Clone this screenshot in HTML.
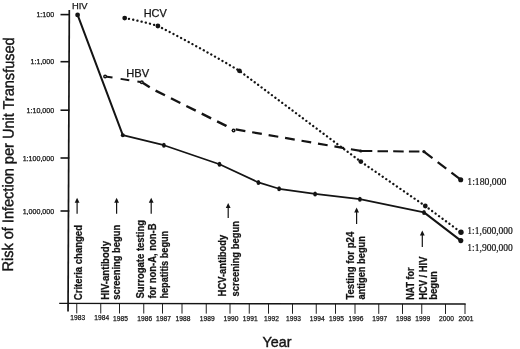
<!DOCTYPE html><html><head><meta charset="utf-8"><title>Risk of Infection per Unit Transfused</title>
<style>html,body{margin:0;padding:0;background:#fff}svg{display:block}text{font-family:"Liberation Sans",sans-serif;fill:#141414;stroke:#141414;stroke-width:.25px}.b{font-weight:bold}.s{font-family:"Liberation Serif",serif;stroke-width:.2px}</style></head><body>
<svg width="520" height="349" viewBox="0 0 520 349">
<rect width="520" height="349" fill="#fff"/>
<g stroke="#141414" fill="none">
<line x1="69.3" y1="10" x2="68.05" y2="311.5" stroke-width="1.7"/>
<line x1="59.2" y1="303.4" x2="465.7" y2="304" stroke-width="1.4"/>
<line x1="60.5" y1="14.6" x2="69.3" y2="14.6" stroke-width="1.6"/>
<line x1="60.5" y1="61.7" x2="69.3" y2="61.7" stroke-width="1.6"/>
<line x1="60.5" y1="110.2" x2="69.3" y2="110.2" stroke-width="1.6"/>
<line x1="60.5" y1="158" x2="69.3" y2="158" stroke-width="1.6"/>
<line x1="60.5" y1="211" x2="69.3" y2="211" stroke-width="1.6"/>
<line x1="76.75" y1="303.43" x2="76.75" y2="313.43" stroke-width="0.95"/>
<line x1="100.75" y1="303.46" x2="100.75" y2="313.46" stroke-width="0.95"/>
<line x1="119.5" y1="303.49" x2="119.5" y2="313.49" stroke-width="0.95"/>
<line x1="143.75" y1="303.52" x2="143.75" y2="313.52" stroke-width="0.95"/>
<line x1="162.5" y1="303.55" x2="162.5" y2="313.55" stroke-width="0.95"/>
<line x1="182" y1="303.58" x2="182" y2="313.58" stroke-width="0.95"/>
<line x1="206.25" y1="303.62" x2="206.25" y2="313.62" stroke-width="0.95"/>
<line x1="230" y1="303.65" x2="230" y2="313.65" stroke-width="0.95"/>
<line x1="249.25" y1="303.68" x2="249.25" y2="313.68" stroke-width="0.95"/>
<line x1="268.5" y1="303.71" x2="268.5" y2="313.71" stroke-width="0.95"/>
<line x1="292.5" y1="303.74" x2="292.5" y2="313.74" stroke-width="0.95"/>
<line x1="316.25" y1="303.78" x2="316.25" y2="313.78" stroke-width="0.95"/>
<line x1="335.5" y1="303.81" x2="335.5" y2="313.81" stroke-width="0.95"/>
<line x1="355" y1="303.84" x2="355" y2="313.84" stroke-width="0.95"/>
<line x1="378.75" y1="303.87" x2="378.75" y2="313.87" stroke-width="0.95"/>
<line x1="402.5" y1="303.91" x2="402.5" y2="313.91" stroke-width="0.95"/>
<line x1="421.75" y1="303.93" x2="421.75" y2="313.93" stroke-width="0.95"/>
<line x1="445.5" y1="303.97" x2="445.5" y2="313.97" stroke-width="0.95"/>
<line x1="465" y1="304.00" x2="465" y2="314.00" stroke-width="0.95"/>
</g>
<text x="54.2" y="17.2" font-size="7.1" text-anchor="end">1:100</text>
<text x="54.2" y="64.3" font-size="7.1" text-anchor="end">1:1,000</text>
<text x="54.2" y="112.8" font-size="7.1" text-anchor="end">1:10,000</text>
<text x="54.2" y="160.6" font-size="7.1" text-anchor="end">1:100,000</text>
<text x="54.2" y="213.6" font-size="7.1" text-anchor="end">1,000,000</text>
<text x="70.35" y="320.40" font-size="7.4" textLength="14.8" lengthAdjust="spacingAndGlyphs">1983</text>
<text x="94.35" y="320.46" font-size="7.4" textLength="14.8" lengthAdjust="spacingAndGlyphs">1984</text>
<text x="113.10" y="320.50" font-size="7.4" textLength="14.8" lengthAdjust="spacingAndGlyphs">1985</text>
<text x="137.35" y="320.56" font-size="7.4" textLength="14.8" lengthAdjust="spacingAndGlyphs">1986</text>
<text x="156.10" y="320.60" font-size="7.4" textLength="14.8" lengthAdjust="spacingAndGlyphs">1987</text>
<text x="175.60" y="320.65" font-size="7.4" textLength="14.8" lengthAdjust="spacingAndGlyphs">1988</text>
<text x="199.85" y="320.70" font-size="7.4" textLength="14.8" lengthAdjust="spacingAndGlyphs">1989</text>
<text x="223.60" y="320.76" font-size="7.4" textLength="14.8" lengthAdjust="spacingAndGlyphs">1990</text>
<text x="242.85" y="320.80" font-size="7.4" textLength="14.8" lengthAdjust="spacingAndGlyphs">1991</text>
<text x="264.10" y="320.85" font-size="7.4" textLength="14.8" lengthAdjust="spacingAndGlyphs">1992</text>
<text x="286.10" y="320.90" font-size="7.4" textLength="14.8" lengthAdjust="spacingAndGlyphs">1993</text>
<text x="309.85" y="320.96" font-size="7.4" textLength="14.8" lengthAdjust="spacingAndGlyphs">1994</text>
<text x="329.10" y="321.00" font-size="7.4" textLength="14.8" lengthAdjust="spacingAndGlyphs">1995</text>
<text x="348.60" y="321.05" font-size="7.4" textLength="14.8" lengthAdjust="spacingAndGlyphs">1996</text>
<text x="372.35" y="321.10" font-size="7.4" textLength="14.8" lengthAdjust="spacingAndGlyphs">1997</text>
<text x="396.10" y="321.16" font-size="7.4" textLength="14.8" lengthAdjust="spacingAndGlyphs">1998</text>
<text x="415.35" y="321.20" font-size="7.4" textLength="14.8" lengthAdjust="spacingAndGlyphs">1999</text>
<text x="439.10" y="321.25" font-size="7.4" textLength="14.8" lengthAdjust="spacingAndGlyphs">2000</text>
<text x="458.60" y="321.30" font-size="7.4" textLength="14.8" lengthAdjust="spacingAndGlyphs">2001</text>
<polyline points="77.6,14.9 122.8,135.2" fill="none" stroke="#141414" stroke-width="2" stroke-linecap="round"/>
<polyline points="122.8,135.2 163.9,145.2 219.5,164.3 258.4,182.4 279.1,188.8 315.1,193.9 359.9,199.2 424,212.4" fill="none" stroke="#141414" stroke-width="1.7" stroke-linejoin="round"/>
<polyline points="424,212.4 460.8,240.6" fill="none" stroke="#141414" stroke-width="2" stroke-linecap="round"/>
<polyline points="105.1,76.4 141.9,82.3" fill="none" stroke="#141414" stroke-width="2.0" stroke-dasharray="8.8 8.2" stroke-dashoffset="1.3"/>
<polyline points="141.9,82.3 152,88.8 226.2,125.9 233.6,130.6" fill="none" stroke="#141414" stroke-width="2.4" stroke-dasharray="10.5 6.7" stroke-dashoffset="1.2"/>
<polyline points="235.7,129.4 360.8,151" fill="none" stroke="#141414" stroke-width="2.2" stroke-dasharray="9.8 6.9" stroke-dashoffset="0"/>
<polyline points="360.8,151 423.9,151.6" fill="none" stroke="#141414" stroke-width="2.0" stroke-dasharray="10.5 5.2" stroke-dashoffset="-1"/>
<polyline points="423.9,151.6 460.7,179.6" fill="none" stroke="#141414" stroke-width="2.2" stroke-dasharray="10.8 6.5" stroke-dashoffset="0"/>
<path d="M124.7 18.1 Q141.53 21.08 157.9 26 Q199.42 47.00 239.4 70.8 Q300.10 116.20 360.8 161.6 Q393.05 183.80 425.3 206 Q443.15 219.15 461 232.3" fill="none" stroke="#141414" stroke-width="2.3" stroke-dasharray="0.1 4.2" stroke-linecap="round"/>
<circle cx="77.6" cy="14.9" r="2.4" fill="#141414"/>
<circle cx="122.8" cy="135.2" r="2.0" fill="#141414"/>
<ellipse cx="163.9" cy="145.2" rx="1.9" ry="2.5" fill="#141414"/>
<ellipse cx="219.5" cy="164.3" rx="1.9" ry="2.5" fill="#141414"/>
<ellipse cx="258.4" cy="182.4" rx="1.9" ry="2.5" fill="#141414"/>
<ellipse cx="279.1" cy="188.8" rx="1.9" ry="2.5" fill="#141414"/>
<ellipse cx="315.1" cy="193.9" rx="1.9" ry="2.5" fill="#141414"/>
<ellipse cx="359.9" cy="199.2" rx="1.9" ry="2.5" fill="#141414"/>
<ellipse cx="424" cy="212.4" rx="1.9" ry="2.5" fill="#141414"/>
<circle cx="460.8" cy="240.6" r="2.55" fill="#141414"/>
<circle cx="124.7" cy="18.1" r="2.4" fill="#141414"/>
<circle cx="157.9" cy="26" r="2.4" fill="#141414"/>
<circle cx="239.4" cy="70.8" r="2.4" fill="#141414"/>
<circle cx="360.8" cy="161.6" r="2.4" fill="#141414"/>
<circle cx="425.3" cy="206" r="2.4" fill="#141414"/>
<circle cx="461" cy="232.3" r="2.7" fill="#141414"/>
<circle cx="105.1" cy="76.4" r="1.25" fill="#fff" stroke="#141414" stroke-width="1.5"/>
<circle cx="141.8" cy="82.2" r="1.25" fill="#fff" stroke="#141414" stroke-width="1.5"/>
<circle cx="233.6" cy="130.6" r="1.25" fill="#fff" stroke="#141414" stroke-width="1.5"/>
<circle cx="360.8" cy="151" r="1.6" fill="#141414"/>
<circle cx="423.9" cy="151.6" r="1.6" fill="#141414"/>
<circle cx="460.7" cy="179.7" r="2.55" fill="#141414"/>
<text x="71.9" y="9.1" font-size="9.5" textLength="15.6" lengthAdjust="spacingAndGlyphs">HIV</text>
<text x="143.7" y="17.1" font-size="11.5" textLength="23.1" lengthAdjust="spacingAndGlyphs">HCV</text>
<text x="126.2" y="77.3" font-size="10.9" textLength="22.9" lengthAdjust="spacingAndGlyphs">HBV</text>
<text class="s" x="467.3" y="184.5" font-size="10" textLength="39.1" lengthAdjust="spacingAndGlyphs">1:180,000</text>
<text class="s" x="467.3" y="234.4" font-size="10" textLength="45.6" lengthAdjust="spacingAndGlyphs">1:1,600,000</text>
<text class="s" x="467.3" y="250.5" font-size="10" textLength="45.6" lengthAdjust="spacingAndGlyphs">1:1,900,000</text>
<text transform="translate(12.9,271.6) rotate(-89.7)" font-size="15.4" style="stroke-width:.4px" textLength="234.3" lengthAdjust="spacingAndGlyphs">Risk of Infection per Unit Transfused</text>
<text x="262.6" y="347.3" font-size="14.2" style="stroke-width:.4px" textLength="28.9" lengthAdjust="spacingAndGlyphs">Year</text>
<line x1="77.1" y1="199.8" x2="77.1" y2="213.7" stroke="#141414" stroke-width="1.2"/>
<path d="M77.1 197.8 L74.69999999999999 202.8 L79.5 202.8 Z" fill="#141414"/>
<line x1="116.6" y1="199.8" x2="116.6" y2="213.7" stroke="#141414" stroke-width="1.2"/>
<path d="M116.6 197.8 L114.19999999999999 202.8 L119.0 202.8 Z" fill="#141414"/>
<line x1="151.2" y1="199.8" x2="151.2" y2="213.7" stroke="#141414" stroke-width="1.2"/>
<path d="M151.2 197.8 L148.79999999999998 202.8 L153.6 202.8 Z" fill="#141414"/>
<line x1="228.2" y1="205" x2="228.2" y2="218" stroke="#141414" stroke-width="1.2"/>
<path d="M228.2 203 L225.79999999999998 208 L230.6 208 Z" fill="#141414"/>
<line x1="356.6" y1="209.6" x2="356.6" y2="224" stroke="#141414" stroke-width="1.2"/>
<path d="M356.6 207.6 L354.20000000000005 212.6 L359.0 212.6 Z" fill="#141414"/>
<line x1="422.3" y1="232.5" x2="422.3" y2="247" stroke="#141414" stroke-width="1.2"/>
<path d="M422.3 230.5 L419.90000000000003 235.5 L424.7 235.5 Z" fill="#141414"/>
<text class="b" transform="translate(81.5,300.2) rotate(-90)" font-size="10.2" textLength="75.2" lengthAdjust="spacingAndGlyphs">Criteria changed</text>
<text class="b" transform="translate(109.1,299.7) rotate(-90)" font-size="10.2" textLength="58.8" lengthAdjust="spacingAndGlyphs">HIV-antibody</text>
<text class="b" transform="translate(120.3,299.7) rotate(-90)" font-size="10.2" textLength="74.8" lengthAdjust="spacingAndGlyphs">screening begun</text>
<text class="b" transform="translate(143.7,298.6) rotate(-90)" font-size="10.2" textLength="78.6" lengthAdjust="spacingAndGlyphs">Surrogate testing</text>
<text class="b" transform="translate(155.5,298.6) rotate(-90)" font-size="10.2" textLength="75.2" lengthAdjust="spacingAndGlyphs">for non-A, non-B</text>
<text class="b" transform="translate(167.5,298.6) rotate(-90)" font-size="10.2" textLength="67.8" lengthAdjust="spacingAndGlyphs">hepatitis begun</text>
<text class="b" transform="translate(226.4,296.4) rotate(-90)" font-size="10.2" textLength="61.6" lengthAdjust="spacingAndGlyphs">HCV-antibody</text>
<text class="b" transform="translate(238.6,296.4) rotate(-90)" font-size="10.2" textLength="75.4" lengthAdjust="spacingAndGlyphs">screening begun</text>
<text class="b" transform="translate(353.6,299.6) rotate(-90)" font-size="10.2" textLength="67.8" lengthAdjust="spacingAndGlyphs">Testing for p24</text>
<text class="b" transform="translate(365.3,299.6) rotate(-90)" font-size="10.2" textLength="63.6" lengthAdjust="spacingAndGlyphs">antigen begun</text>
<text class="b" transform="translate(414.2,299.8) rotate(-90)" font-size="10.2" textLength="32.4" lengthAdjust="spacingAndGlyphs">NAT for</text>
<text class="b" transform="translate(426.5,299.8) rotate(-90)" font-size="10.2" textLength="43.2" lengthAdjust="spacingAndGlyphs">HCV / HIV</text>
<text class="b" transform="translate(437.2,299.8) rotate(-90)" font-size="10.2" textLength="28.6" lengthAdjust="spacingAndGlyphs">begun</text>
</svg></body></html>
